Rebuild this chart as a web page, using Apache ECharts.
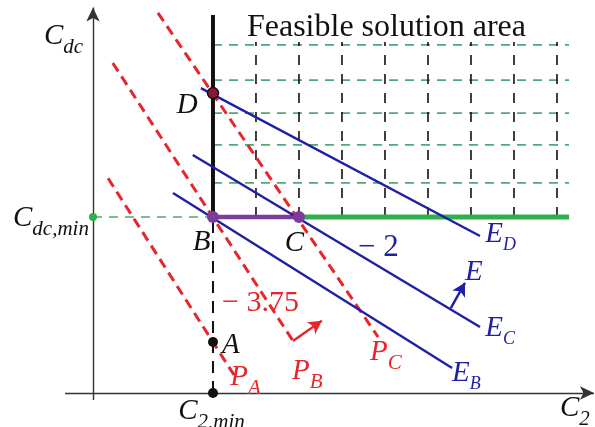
<!DOCTYPE html>
<html>
<head>
<meta charset="utf-8">
<script src="https://cdn.jsdelivr.net/npm/echarts@6/dist/echarts.min.js"></script>
<style>
  html, body { margin: 0; padding: 0; background: #ffffff; }
  #chart { width: 595px; height: 427px; }
</style>
</head>
<body>
<div id="chart"></div>
<script>
// Plane of the two capacities: C2 horizontally, Cdc vertically.
const xRange = [-1.953, 11.884];
const yRange = [-0.966, 11.165];

// Axes of the plane
const axisC2 = [[-0.44, 0], [11.86, 0]];
const axisCdc = [[0.21, -0.2], [0.21, 10.95]];

// Lower bounds
const c2Min = 3;
const cdcMin = 5;
const c2MinTop = 10.74;

// Hatched feasible region
const feasibleRight = 11.28;
const feasibleTop = 9.97;
const gridCols = [4, 5, 6, 7, 8, 9, 10, 11];
const gridRows = [5.97, 7.05, 7.95, 8.89, 9.89];

// Key points
const pointA = [3, 1.45];
const pointB = [3, 5];
const pointC = [5, 5];
const pointD = [3, 8.52];
const pointC2min = [3, 0];
const pointCdcMin = [0.21, 5];

// Red dashed P lines (slope -3.75)
const lineP_A = [[0.56, 6.10], [3.49, 0.51]];
const lineP_B = [[0.67, 9.375], [4.86, 1.48]];
const lineP_C = [[1.72, 10.80], [6.84, 1.59]];

// Blue E lines (slope -2)
const lineE_B = [[2.07, 5.68], [8.56, 0.71]];
const lineE_C = [[2.53, 6.76], [9.21, 1.875]];
const lineE_D = [[2.72, 8.66], [9.21, 4.46]];

// Direction arrows
const arrowP = [[4.86, 1.48], [5.53, 2.05]];
const arrowE = [[8.53, 2.41], [8.86, 3.13]];

// Text annotations: [text, x, y]
const labelItems = [
  ['{t|Feasible solution area}', 3.79, 10.37],
  ['{m|C}{s|dc}', -0.93, 10.14],
  ['{m|C}{s|dc,min}', -1.65, 4.97],
  ['{m|D}', 2.16, 8.18],
  ['{m|B}', 2.53, 4.29],
  ['{m|C}', 4.67, 4.26],
  ['{m|A}', 3.21, 1.36],
  ['{bn|− 2}', 6.37, 4.12],
  ['{rn|− 3.75}', 3.21, 2.56],
  ['{bm|E}{bs|D}', 9.33, 4.52],
  ['{bm|E}{bs|C}', 9.33, 1.85],
  ['{bm|E}{bs|B}', 8.56, 0.57],
  ['{bm|E}', 8.86, 3.44],
  ['{rm|P}{rs|A}', 3.40, 0.45],
  ['{rm|P}{rs|B}', 4.84, 0.625],
  ['{rm|P}{rs|C}', 6.65, 1.16],
  ['{m|C}{s|2,min}', 2.19, -0.51],
  ['{m|C}{s|2}', 11.07, -0.43]
];

const RED = '#e5262b';
const BLUE = '#1f1fa6';
const GREEN = '#2eb04a';
const GREEN_DASH = '#4fa878';
const PURPLE = '#7b3c9c';
const INK = '#111111';
const SERIF = '"Liberation Serif", "Times New Roman", serif';

function seg(points, color, width, type, z) {
  return {
    type: 'line',
    data: points,
    symbol: 'none',
    silent: true,
    z: z || 2,
    lineStyle: { color: color, width: width, type: type || 'solid', cap: 'butt' }
  };
}

function arrow(points, color, width, size, z) {
  return {
    type: 'line',
    data: [],
    silent: true,
    z: z || 3,
    markLine: {
      silent: true,
      animation: false,
      symbol: ['none', 'arrow'],
      symbolSize: size,
      label: { show: false },
      lineStyle: { color: color, width: width, type: 'solid', opacity: 1 },
      data: [[{ coord: points[0] }, { coord: points[1] }]]
    }
  };
}

function dot(p, fill, border, size, z) {
  return {
    type: 'scatter',
    data: [p],
    symbol: 'circle',
    symbolSize: size,
    silent: true,
    z: z || 5,
    itemStyle: { color: fill, borderColor: border || fill, borderWidth: border ? 1.5 : 0, opacity: 1 }
  };
}

const series = [];

// axes with arrow heads
series.push(arrow(axisC2, '#333333', 1.4, [10, 14], 1));
series.push(arrow(axisCdc, '#333333', 1.4, [10, 14], 1));

// hatching of the feasible region
gridRows.forEach(function (y) {
  series.push(seg([[c2Min, y], [feasibleRight, y]], GREEN_DASH, 1.6, [9, 7], 1));
});
gridCols.forEach(function (x) {
  series.push(seg([[x, cdcMin], [x, feasibleTop]], INK, 1.6, [10, 9], 1));
});

// lower bound lines
series.push(seg([pointCdcMin, pointB], GREEN_DASH, 1.6, [9, 7], 1));
series.push(seg([pointC2min, pointB], INK, 2, [12, 8], 1));
series.push(seg([pointB, [c2Min, c2MinTop]], INK, 4, 'solid', 2));
series.push(seg([pointC, [feasibleRight, cdcMin]], GREEN, 5, 'solid', 2));
series.push(seg([pointB, pointC], PURPLE, 4.5, 'solid', 3));

// P and E families
[lineP_A, lineP_B, lineP_C].forEach(function (l) {
  series.push(seg(l, RED, 3, [10, 6], 3));
});
[lineE_B, lineE_C, lineE_D].forEach(function (l) {
  series.push(seg(l, BLUE, 2.4, 'solid', 3));
});
series.push(arrow(arrowP, RED, 2.4, [11, 13], 4));
series.push(arrow(arrowE, BLUE, 2.4, [11, 13], 4));

// points
series.push(dot(pointC2min, INK, null, 10));
series.push(dot(pointA, INK, null, 10));
series.push(dot(pointCdcMin, GREEN, null, 8));
series.push(dot(pointB, PURPLE, null, 12, 6));
series.push(dot(pointC, PURPLE, null, 12, 6));
series.push(dot(pointD, '#8a1830', INK, 11, 6));

const ital = { fontFamily: SERIF, fontStyle: 'italic' };
const rich = {
  t: { fontFamily: SERIF, fontSize: 32, color: INK, lineHeight: 34 },
  m: Object.assign({ fontSize: 29, color: INK, lineHeight: 30 }, ital),
  s: Object.assign({ fontSize: 21, color: INK, lineHeight: 21, verticalAlign: 'top', padding: [16, 0, 0, 0] }, ital),
  bm: Object.assign({ fontSize: 29, color: BLUE, lineHeight: 30 }, ital),
  bs: Object.assign({ fontSize: 18, color: BLUE, lineHeight: 18, verticalAlign: 'top', padding: [17, 0, 0, 0] }, ital),
  rm: Object.assign({ fontSize: 29, color: RED, lineHeight: 30 }, ital),
  rs: Object.assign({ fontSize: 21, color: RED, lineHeight: 21, verticalAlign: 'top', padding: [16, 0, 0, 0] }, ital),
  bn: { fontFamily: SERIF, fontSize: 31, color: BLUE, lineHeight: 32 },
  rn: { fontFamily: SERIF, fontSize: 30, color: RED, lineHeight: 32 }
};

series.push({
  type: 'scatter',
  symbolSize: 0,
  silent: true,
  z: 10,
  itemStyle: { opacity: 1 },
  data: labelItems.map(function (d) { return { value: [d[1], d[2]], name: d[0] }; }),
  label: {
    show: true,
    position: 'right',
    distance: 0,
    opacity: 1,
    formatter: function (p) { return p.name; },
    rich: rich
  }
});

const chart = echarts.init(document.getElementById('chart'), null, { renderer: 'canvas' });
chart.setOption({
  animation: false,
  backgroundColor: '#ffffff',
  grid: { left: 0, right: 0, top: 0, bottom: 0 },
  xAxis: { type: 'value', min: xRange[0], max: xRange[1], show: false },
  yAxis: { type: 'value', min: yRange[0], max: yRange[1], show: false },
  series: series
});
</script>
</body>
</html>
